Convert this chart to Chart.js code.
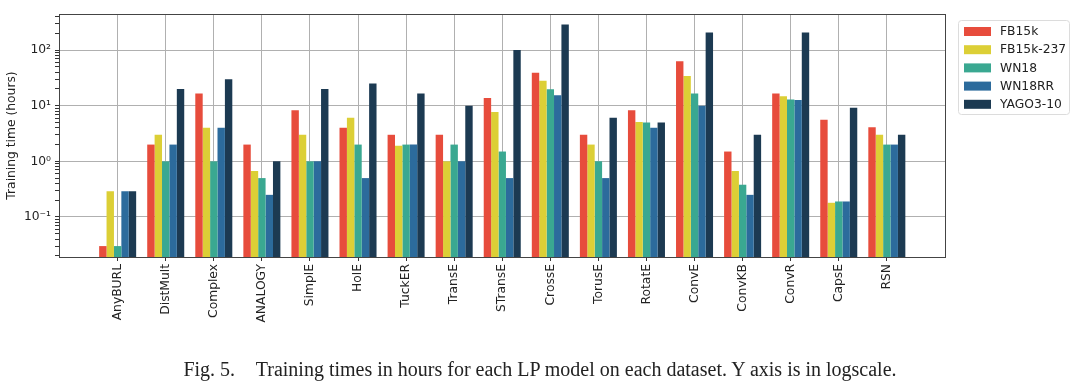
<!DOCTYPE html>
<html>
<head>
<meta charset="utf-8">
<script src="https://cdn.jsdelivr.net/npm/chart.js@4"></script>
<style>
  body { margin: 0; background: #fff; }
  #wrap { position: relative; width: 1080px; height: 389px; }
  #chartBox { position: absolute; left: 0; top: 0; width: 1080px; height: 389px; }
  #caption {
    position: absolute; left: 0; width: 1080px; top: 356px; text-align: center;
    font-family: "Liberation Serif", serif; font-size: 20px; line-height: 26px; color: #222;
    white-space: nowrap;
  }
  #caption .num { margin-right: 16px; }
</style>
</head>
<body>
<div id="wrap">
  <div id="chartBox"><canvas id="timeChart"></canvas></div>
  <div id="caption"><span class="num">Fig. 5.</span> Training times in hours for each LP model on each dataset. Y axis is in logscale.</div>
</div>
<script>
// modelli (asse x)
const models = ['AnyBURL', 'DistMult', 'Complex', 'ANALOGY', 'SimplE', 'HolE', 'TuckER', 'TransE',
  'STransE', 'CrossE', 'TorusE', 'RotatE', 'ConvE', 'ConvKB', 'ConvR', 'CapsE', 'RSN'];

// ore di training per dataset
const fb15k    = [0.03, 2, 16.5, 2, 8.3, 4, 3, 3, 13.8, 39, 3, 8.3, 63, 1.5, 16.5, 5.6, 4.1];
const fb15k237 = [0.29, 3, 4, 0.67, 3, 6.1, 1.9, 1, 7.7, 28, 2, 5.1, 34, 0.67, 14.8, 0.18, 3];
const wn18     = [0.03, 1, 1, 0.5, 1, 2, 2, 2, 1.5, 19.7, 1, 5, 16.5, 0.38, 12.9, 0.19, 2];
const wn18rr   = [0.29, 2, 4, 0.25, 1, 0.5, 2, 1, 0.5, 15.4, 0.5, 4, 10, 0.25, 12.6, 0.19, 2];
const yago     = [0.29, 20, 30, 1, 20, 25, 16.5, 10, 100, 287, 6.1, 5, 206, 3, 206, 9.2, 3];

const datasetNames = ['FB15k', 'FB15k-237', 'WN18', 'WN18RR', 'YAGO3-10'];
const colors = ['#e74c3c', '#dccf36', '#3aa891', '#2c6b9c', '#1c3a52'];

// tick dell'asse y
const majorTicks = [0.1, 1, 10, 100];
const majorLabels = ['10\u207B\u00B9', '10\u2070', '10\u00B9', '10\u00B2'];

const series = [fb15k, fb15k237, wn18, wn18rr, yago];
const fontSize = 12.3;

function toPoints(values) {
  return values.map((v, i) => ({ x: i, y: v }));
}

// tick minori del log (2..9 per ogni decade)
function logTicks(min, max) {
  const ticks = [];
  for (let e = -2; e <= 2; e++) {
    for (let m = 1; m <= 9; m++) {
      const v = m * Math.pow(10, e);
      if (v >= min && v <= max) ticks.push({ value: v, major: m === 1 });
    }
  }
  return ticks;
}

// cornice intorno all'area del grafico
const frame = {
  id: 'frame',
  afterDraw(chart) {
    const { ctx, chartArea: a } = chart;
    ctx.save();
    ctx.strokeStyle = '#444';
    ctx.lineWidth = 1;
    ctx.strokeRect(a.left + 0.5, a.top + 0.5, a.right - a.left, a.bottom - a.top);
    ctx.restore();
  }
};

// legenda in stile matplotlib
const boxLegend = {
  id: 'boxLegend',
  afterDraw(chart) {
    const ctx = chart.ctx;
    const x0 = 958, y0 = 20, w = 111, h = 94;
    ctx.save();
    ctx.fillStyle = 'rgba(255,255,255,0.9)';
    ctx.strokeStyle = '#dcdcdc';
    ctx.lineWidth = 1;
    ctx.beginPath();
    ctx.roundRect(x0 + 0.5, y0 + 0.5, w, h, 3);
    ctx.fill();
    ctx.stroke();
    ctx.font = fontSize + 'px "DejaVu Sans"';
    ctx.textBaseline = 'middle';
    chart.data.datasets.forEach((ds, i) => {
      const cy = y0 + 11 + i * 18.2;
      ctx.fillStyle = ds.backgroundColor;
      ctx.fillRect(x0 + 6, cy - 4, 27, 9);
      ctx.fillStyle = '#222';
      ctx.fillText(ds.label, x0 + 42, cy + 1);
    });
    ctx.restore();
  }
};

const ctx = document.getElementById('timeChart').getContext('2d');

const timeChart = new Chart(ctx, {
  type: 'bar',
  data: {
    datasets: series.map((vals, i) => ({
      label: datasetNames[i],
      data: toPoints(vals),
      backgroundColor: colors[i],
      borderWidth: 0,
      categoryPercentage: 0.77,
      barPercentage: 1.0
    }))
  },
  options: {
    responsive: true,
    maintainAspectRatio: false,
    animation: false,
    layout: { padding: { top: 14, right: 135, left: 0, bottom: 0 } },
    plugins: {
      legend: { display: false },
      tooltip: { enabled: false }
    },
    scales: {
      x: {
        type: 'linear',
        offset: false,
        min: -1.22,
        max: 17.21,
        afterBuildTicks: (axis) => {
          axis.ticks = models.map((_, i) => ({ value: i }));
        },
        afterFit: (axis) => { axis.height = 132; },
        ticks: {
          autoSkip: false,
          minRotation: 90,
          maxRotation: 90,
          padding: 3,
          color: '#222',
          font: { family: 'DejaVu Sans', size: fontSize },
          callback: (value) => models[value]
        },
        grid: { offset: false, color: '#b0b0b0', tickColor: '#333', tickLength: 4 },
        border: { display: false }
      },
      y: {
        type: 'logarithmic',
        min: 0.0191,
        max: 444,
        afterBuildTicks: (axis) => {
          axis.ticks = logTicks(axis.min, axis.max);
        },
        afterFit: (axis) => { axis.width = 59; },
        ticks: {
          autoSkip: false,
          padding: 4,
          color: '#222',
          font: { family: 'DejaVu Sans', size: fontSize },
          callback: (value) => {
            const k = majorTicks.findIndex(t => Math.abs(t - value) < t * 1e-6);
            return k >= 0 ? majorLabels[k] : '';
          }
        },
        grid: {
          color: (c) => (c.tick && c.tick.major) ? '#b0b0b0' : 'rgba(0,0,0,0)',
          tickColor: '#333',
          tickLength: 4
        },
        border: { display: false },
        title: {
          display: true,
          text: 'Training time (hours)',
          color: '#222',
          font: { family: 'DejaVu Sans', size: fontSize },
          padding: { top: 4, bottom: 0 }
        }
      }
    }
  },
  plugins: [frame, boxLegend]
});
</script>
</body>
</html>
